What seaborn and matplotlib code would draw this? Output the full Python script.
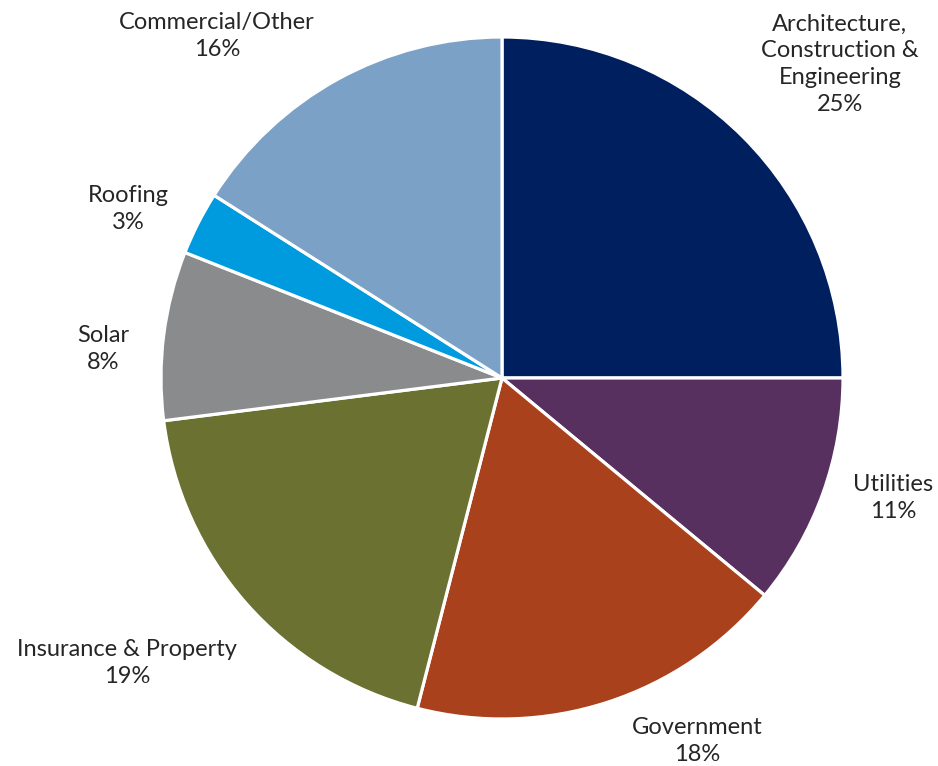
import numpy as np
import matplotlib
matplotlib.use("Agg")
import matplotlib.pyplot as plt
import seaborn as sns

# Sector shares (percent), clockwise from 12 o'clock
sectors = ["Architecture,\nConstruction &\nEngineering", "Utilities", "Government",
           "Insurance & Property", "Solar", "Roofing", "Commercial/Other"]
shares = [25, 11, 18, 19, 8, 3, 16]
colors = ["#001f5f", "#57305f", "#a8411c", "#6b7130", "#898b8d", "#009bdf", "#7ba1c6"]
# label anchors, in units of the pie radius
label_xy = [(0.991, 0.92), (1.147, -0.352), (0.572, -1.065), (-1.100, -0.836),
            (-1.170, 0.085), (-1.097, 0.496), (-0.836, 1.003)]

sns.set_theme(style="white")
plt.rcParams["font.family"] = ["Lato", "DejaVu Sans"]

fig = plt.figure(figsize=(9.38, 7.66), dpi=100)
ax = fig.add_axes([0, 0, 1, 1])

wedges, _ = ax.pie(shares, colors=colors, startangle=90, counterclock=False,
                   wedgeprops=dict(edgecolor="white", linewidth=2.3))

for name, v, (x, y) in zip(sectors, shares, label_xy):
    ax.text(x, y, f"{name}\n{v}%", ha="center", va="center", fontsize=17,
            fontweight="normal", color="#262626", linespacing=1.33)

ax.set_aspect("auto")
ax.set_xlim(-502 / 341, (938 - 502) / 341)
ax.set_ylim(-388 / 341, 378 / 341)
ax.axis("off")

fig.savefig("out.png", dpi=100, facecolor="white")
